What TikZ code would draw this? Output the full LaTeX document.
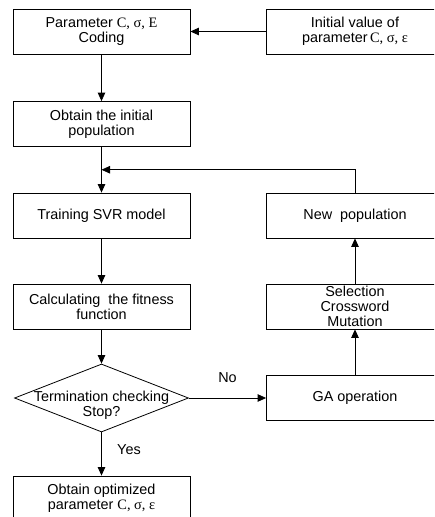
\documentclass[tikz,border=0pt]{standalone}
\usepackage{fontspec}
\setmainfont{Liberation Sans}
\newfontfamily\serif{Liberation Serif}
\usetikzlibrary{arrows.meta,shapes.geometric,calc}
\tikzset{
  box/.style={draw, minimum width=177pt, minimum height=45pt, inner sep=0pt, align=center},
  check/.style={draw, diamond, minimum width=174pt, minimum height=68pt, inner sep=0pt, aspect=2.56},
}
\begin{document}
\begin{tikzpicture}[>={Triangle[length=8.5pt,width=7.5pt]}, x=1pt, y=-1pt, line width=0.8pt,
    font=\fontsize{14.4}{15}\selectfont]
\clip (0,0) rectangle (434,517);
\node[box] (param) at (101.5,31.5) {Parameter {\serif C, σ, E}\\Coding};
\node[box] (init) at (355,31.5) {Initial value of\\parameter{\serif\,C, σ, ε}};
\node[box] (pop) at (101.5,124) {Obtain the initial\\population};
\node[box] (train) at (101.5,215.5) {Training SVR model};
\node[box] (fitness) at (101.5,306.5) {Calculating\ \ the fitness\\function};
\node[check] (stop) at (101.5,398) {};
\node[align=center] (stoptext) at ([yshift=-7pt]stop.center) {Termination checking\\Stop?};
\node[box] (result) at (101.5,498.5) {Obtain optimized\\parameter {\serif C, σ, ε}};
\node[box] (ga) at (355,398) {GA operation};
\node[box] (select) at (355,306.5) {Selection\\Crossword\\Mutation};
\node[box] (newpop) at (355,215.5) {New\ \ population};
\coordinate (join) at ($(pop.south)!0.5!(train.north)$);

\draw[->] (init) -- (param);
\draw[->] (param) -- (pop);
\draw[->] (pop) -- (train);
\draw[->] (train) -- (fitness);
\draw[->] (fitness) -- (stop);
\draw[->] (stop) -- node[pos=0.4, right=12pt]{Yes} (result);
\draw[->] (stop.east) -- node[midway, above=12pt]{No} (ga);
\draw[->] (ga) -- (select);
\draw[->] (select) -- (newpop);
\draw[->] (newpop.north) |- (join);
\end{tikzpicture}
\end{document}
